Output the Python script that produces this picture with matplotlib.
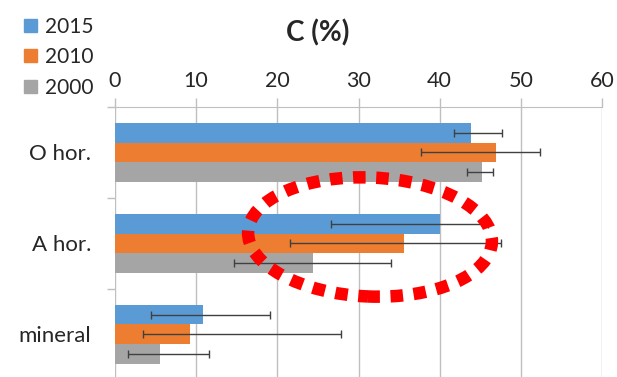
import matplotlib.pyplot as plt
from matplotlib.patches import Ellipse, Patch
import numpy as np

plt.rcParams['font.family'] = ['Lato', 'DejaVu Sans']

categories = ['O hor.', 'A hor.', 'mineral']
years = ['2015', '2010', '2000']
colors = ['#5B9BD5', '#ED7D31', '#A5A5A5']

c2015 = [43.9, 40.0, 10.8]
c2010 = [47.0, 35.6, 9.3]
c2000 = [45.2, 24.4, 5.5]

# asymmetric error bars (minus, plus)
err2015 = [[2.1, 13.4, 6.4], [3.8, 6.0, 8.3]]
err2010 = [[9.3, 14.1, 5.8], [5.4, 11.9, 18.5]]
err2000 = [[1.8, 9.7, 3.9], [1.4, 9.6, 6.1]]

xticks = [0, 10, 20, 30, 40, 50, 60]

fig = plt.figure(figsize=(6.17, 3.77), dpi=100)
ax = fig.add_axes([115 / 617, 0, 487 / 617, 270 / 377])

y = np.arange(len(categories))
h = 0.216
grid_c = '#BFBFBF'
txt_c = '#262626'

for i, (vals, err, col) in enumerate(zip([c2015, c2010, c2000],
                                         [err2015, err2010, err2000], colors)):
    pos = y + (i - 1) * h
    ax.barh(pos, vals, height=h, color=col, zorder=2)
    ax.errorbar(vals, pos, xerr=err, fmt='none', ecolor='#404040',
                elinewidth=1, capsize=3, capthick=1, zorder=3)

ax.set_xlim(0, 60)
ax.set_ylim(2.47, -0.5)
ax.set_xticks(xticks)
ax.xaxis.tick_top()
ax.tick_params(axis='x', length=6.5, width=1, color=grid_c, labelsize=15.5,
               pad=5, labelcolor=txt_c)
ax.set_yticks(y)
ax.set_yticklabels(categories)
ax.set_yticks([-0.5, 0.5, 1.5], minor=True)
ax.tick_params(axis='y', which='major', length=0, pad=17, labelsize=16,
               labelcolor=txt_c)
ax.tick_params(axis='y', which='minor', length=6, width=1, color=grid_c)
ax.grid(axis='x', color=grid_c, lw=1, zorder=0)
for s in ['right', 'bottom', 'left']:
    ax.spines[s].set_visible(False)
ax.spines['top'].set_color(grid_c)

fig.text(318 / 617, 1 - 33 / 377, 'C (%)', fontsize=20, fontweight='bold',
         ha='center', va='center', color=txt_c)

handles = [Patch(color=c) for c in colors]
fig.legend(handles, years, loc='upper left', bbox_to_anchor=(0.012, 1.0),
           frameon=False, fontsize=15, handlelength=0.6, handleheight=0.6,
           handletextpad=0.4, labelspacing=0.5, borderpad=0.3,
           labelcolor=txt_c)

ell = Ellipse((3.70, 1.40), 2.44, 1.19, angle=-2.5, fill=False,
              edgecolor='#FF0000', lw=9, linestyle=(0, (1, 0.85)),
              transform=fig.dpi_scale_trans, zorder=5)
fig.add_artist(ell)

fig.savefig('out.png', dpi=100)
